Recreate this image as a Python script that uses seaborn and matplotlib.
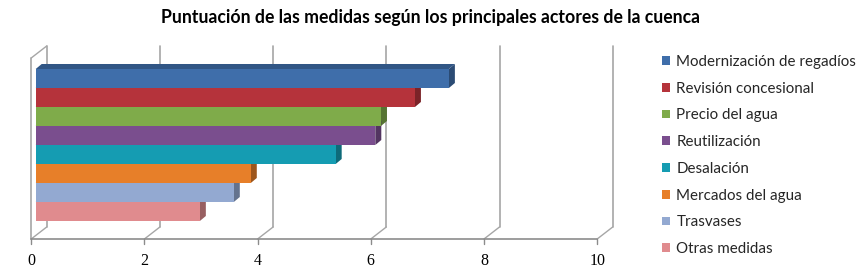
import matplotlib
matplotlib.use("Agg")
import matplotlib.pyplot as plt
from matplotlib.patches import Polygon
from matplotlib.transforms import ScaledTranslation
import seaborn as sns
import pandas as pd

# ---- data ----
categories = ["Modernización de regadíos", "Revisión concesional", "Precio del agua",
              "Reutilización", "Desalación", "Mercados del agua", "Trasvases", "Otras medidas"]
scores = [7.3, 6.7, 6.1, 6.0, 5.3, 3.8, 3.5, 2.9]
colors = ["#3F6EAA", "#B5333B", "#7FAB4A", "#7A4E8E", "#159CB2", "#E77F29", "#93A9D1", "#E08B8E"]
x_ticks = [0, 2, 4, 6, 8, 10]
title = "Puntuación de las medidas según los principales actores de la cuenca"

df = pd.DataFrame({"medida": categories, "puntuacion": scores})

sns.set_theme(style="white")
plt.rcParams["font.family"] = ["Lato", "DejaVu Sans"]

W, H, DPI = 861, 274, 100
fig = plt.figure(figsize=(W / DPI, H / DPI), dpi=DPI)

# bar plane geometry (pixels)
L, R, T, B = 35.7, 601.7, 54.5, 235.5
ax = fig.add_axes([L / W, 1 - B / H, (R - L) / W, (B - T) / H])

sns.barplot(data=df, x="puntuacion", y="medida", hue="medida", palette=colors,
            dodge=False, width=1.0, saturation=1, linewidth=0, legend=True, ax=ax)

xmin, xmax = 0, 10
ylo, yhi = 8.263, -1.263
ax.set_xlim(xmin, xmax)
ax.set_ylim(ylo, yhi)
pxx = (R - L) / (xmax - xmin)
pxy = (B - T) / (ylo - yhi)

def shift(x, y, dxp, dyp):
    # dxp right, dyp up (screen pixels)
    return (x + dxp / pxx, y - dyp / pxy)

FDX, FDY = -4.5, -3.5   # front plane offset from bar plane
BDX, BDY = 11.0, 8.5    # back plane offset from bar plane
grid_c = "#A6A6A6"
axis_c = "#8C8C8C"

# back wall gridlines
for xv in x_ticks:
    p0 = shift(xv, ylo, BDX, BDY)
    p1 = shift(xv, yhi, BDX, BDY)
    ax.plot([p0[0], p1[0]], [p0[1], p1[1]], color=grid_c, lw=1.2, clip_on=False, zorder=0.5)
    f0 = shift(xv, ylo, FDX, FDY)
    ax.plot([f0[0], p0[0]], [f0[1], p0[1]], color=grid_c, lw=1.0, clip_on=False, zorder=0.5)
    t1 = shift(xv, ylo, FDX, FDY - 5)
    ax.plot([f0[0], t1[0]], [f0[1], t1[1]], color=axis_c, lw=1.0, clip_on=False, zorder=0.6)

# left wall
fl0 = shift(0, ylo, FDX, FDY)
fl1 = shift(0, yhi, FDX, FDY)
bl1 = shift(0, yhi, BDX, BDY)
ax.plot([fl0[0], fl1[0]], [fl0[1], fl1[1]], color=grid_c, lw=1.2, clip_on=False, zorder=0.5)
ax.plot([fl1[0], bl1[0]], [fl1[1], bl1[1]], color=grid_c, lw=1.0, clip_on=False, zorder=0.5)
fr0 = shift(10, ylo, FDX, FDY)
ax.plot([fl0[0], fr0[0]], [fl0[1], fr0[1]], color=axis_c, lw=1.2, clip_on=False, zorder=0.6)

def darker(c, f):
    r, g, b = matplotlib.colors.to_rgb(c)
    return (r * f, g * f, b * f)

DX, DY = 6.0, 5.0
for patch in ax.patches:
    x0 = patch.get_x()
    w = patch.get_width()
    y0 = patch.get_y()
    h = patch.get_height()
    if w <= 0 or h <= 0:
        continue
    c = patch.get_facecolor()
    x1 = x0 + w
    ytop, ybot = y0, y0 + h
    side = [(x1, ytop), (x1, ybot), shift(x1, ybot, DX, DY), shift(x1, ytop, DX, DY)]
    top = [(x0, ytop), (x1, ytop), shift(x1, ytop, DX, DY), shift(x0, ytop, DX, DY)]
    ax.add_patch(Polygon(side, closed=True, facecolor=darker(c[:3], 0.68), edgecolor="none", zorder=1, clip_on=False))
    ax.add_patch(Polygon(top, closed=True, facecolor=darker(c[:3], 0.78), edgecolor="none", zorder=1, clip_on=False))
    patch.set_zorder(2)

for s in ax.spines.values():
    s.set_visible(False)
ax.set_xlabel("")
ax.set_ylabel("")
ax.set_yticks([])
ax.set_xticks(x_ticks)
ax.set_xticklabels([str(v) for v in x_ticks])
ax.tick_params(axis="x", length=0, pad=12.5)
for lab in ax.get_xticklabels():
    lab.set_fontfamily(["Liberation Serif", "DejaVu Serif"])
    lab.set_fontsize(11.5)
    lab.set_color("#000000")
    lab.set_transform(lab.get_transform() + ScaledTranslation(FDX / DPI, 0, fig.dpi_scale_trans))

handles, labels = ax.get_legend_handles_labels()
leg = ax.get_legend()
if leg is not None:
    leg.remove()
fig.legend(handles, labels, loc="upper left", bbox_to_anchor=(662 / W, 1 - 55 / H),
           frameon=False, fontsize=10.9, handlelength=0.5, handleheight=0.5,
           handletextpad=0.45, labelspacing=0.84, borderaxespad=0, borderpad=0)

fig.text(0.5, 1 - 17 / H, title, ha="center", va="center", fontsize=12.7,
         fontweight="bold", color="#000000")

fig.savefig("out.png", dpi=DPI)
